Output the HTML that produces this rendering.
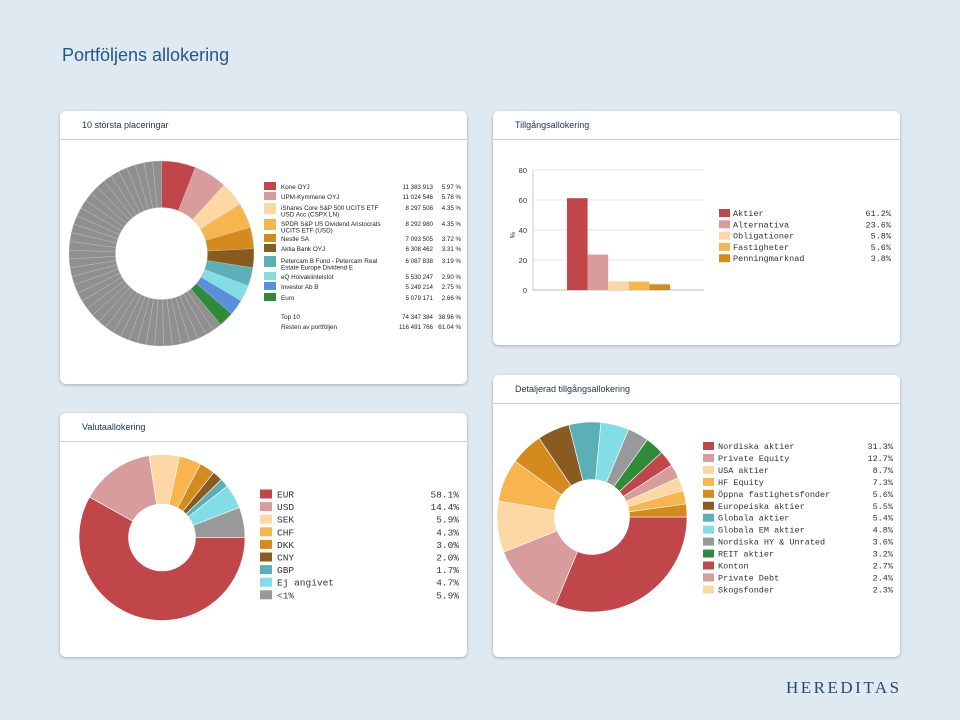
<!DOCTYPE html>
<html><head><meta charset="utf-8"><style>
body{margin:0;width:960px;height:720px;background:#dfe9f2;font-family:"Liberation Sans",sans-serif;position:relative;overflow:hidden}
.card{position:absolute;background:#fff;border-radius:6px;box-shadow:0 1px 3px rgba(0,0,0,.25)}
.hd{position:absolute;left:22px;top:9px;font-size:9px;color:#1c3550}
.ln{position:absolute;left:0;right:0;top:28px;border-top:1px solid #c9d0d6}
svg{position:absolute;left:0;top:0}
</style></head><body>
<div style="position:absolute;left:62px;top:45px;font-size:18px;color:#24568a">Portföljens allokering</div>
<div class="card" style="left:60px;top:111px;width:407px;height:273px"><div class="hd">10 största placeringar</div><div class="ln"></div></div>
<div class="card" style="left:493px;top:111px;width:407px;height:234px"><div class="hd">Tillgångsallokering</div><div class="ln"></div></div>
<div class="card" style="left:493px;top:375px;width:407px;height:282px"><div class="hd">Detaljerad tillgångsallokering</div><div class="ln"></div></div>
<div class="card" style="left:60px;top:413px;width:407px;height:244px"><div class="hd">Valutaallokering</div><div class="ln"></div></div>
<div style="position:absolute;left:786px;top:678px;font-family:'Liberation Serif',serif;font-size:17px;letter-spacing:2.5px;color:#2c4a68">HEREDITAS</div>
<svg id="s" width="960" height="720"></svg>
<script>
const topNames=["Kone OYJ","UPM-Kymmene OYJ","iShares Core S&P 500 UCITS ETF|USD Acc (CSPX LN)","SPDR S&P US Dividend Aristocrats|UCITS ETF (USD)","Nestle SA","Aktia Bank OYJ","Petercam B Fund - Petercam Real|Estate Europe Dividend E","eQ Hoivakiinteistot","Investor Ab B","Euro"];
const topAmounts=["11 383 913","11 024 546","8 297 508","8 292 980","7 093 505","6 308 462","6 087 838","5 530 247","5 249 214","5 079 171"];
const topPct=[5.97,5.78,4.35,4.35,3.72,3.31,3.19,2.90,2.75,2.66];
const restPct=61.04;
const assetCats=["Aktier","Alternativa","Obligationer","Fastigheter","Penningmarknad"];
const assetVals=[61.2,23.6,5.8,5.6,3.8];
const yTicks=[0,20,40,60,80];
const curCats=["EUR","USD","SEK","CHF","DKK","CNY","GBP","Ej angivet","<1%"];
const curVals=[58.1,14.4,5.9,4.3,3.0,2.0,1.7,4.7,5.9];
const detCats=["Nordiska aktier","Private Equity","USA aktier","HF Equity","Öppna fastighetsfonder","Europeiska aktier","Globala aktier","Globala EM aktier","Nordiska HY & Unrated","REIT aktier","Konton","Private Debt","Skogsfonder"];
const detVals=[31.3,12.7,8.7,7.3,5.6,5.5,5.4,4.8,3.6,3.2,2.7,2.4,2.3];
const detExtra=[2.3,2.2];
const C=["#c0464a","#d99c9c","#fdd8a5","#f8b54d","#d48a1d","#8a5b20","#5ab0b6","#82dde6","#5b8fdc","#2e8b3a","#999999"];
const detColors=["#c0464a","#d99c9c","#fdd8a5","#f8b54d","#d48a1d","#8a5b20","#5ab0b6","#82dde6","#999999","#2e8b3a","#c0464a","#d99c9c","#fdd8a5"];
const S=document.getElementById('s');const NS="http://www.w3.org/2000/svg";
function mk(t,a){const e=document.createElementNS(NS,t);for(const k in a)e.setAttribute(k,a[k]);S.appendChild(e);return e;}
function arc(cx,cy,r0,r1,a0,a1){const p=(r,a)=>[cx+r*Math.cos(a),cy+r*Math.sin(a)];const l=(a1-a0)>Math.PI?1:0;const A=p(r1,a0),B=p(r1,a1),c=p(r0,a1),d=p(r0,a0);return `M${A}A${r1},${r1} 0 ${l} 1 ${B}L${c}A${r0},${r0} 0 ${l} 0 ${d}Z`;}
function donut(cx,cy,r0,r1,start,vals,cols,name,stroke,sw){const tot=vals.reduce((a,b)=>a+b,0);let a=start;vals.forEach((v,i)=>{const b=a+v/tot*2*Math.PI;const e=mk('path',{d:arc(cx,cy,r0,r1,a,b),fill:cols[i],stroke:stroke||'none','stroke-width':sw||0.6});


a=b;});}
function txt(x,y,s,o){const e=mk('text',Object.assign({x:x,y:y},o));e.textContent=s;return e;}
// top holdings
const rest=[];for(let i=0;i<40;i++)rest.push(restPct/40);
donut(161.5,253.5,46,92.5,-Math.PI/2,topPct.concat(rest),C.slice(0,10).concat(rest.map(()=>"#8f8f8f")),'top-holdings','#c8c8c8',0.35);
let ys=[186,196,207,223,238,248,260,276,286,297];
topNames.forEach((n,i)=>{const y=ys[i];const two=n.includes('|');const r=mk('rect',{x:264,y:y-4,width:12,height:two?11:8,fill:C[i]});


n.split('|').forEach((p,j)=>txt(281,y+3+j*6.5,p,{'font-size':6.3,fill:'#222'}));
txt(433,y+3,topAmounts[i],{'font-size':6.2,fill:'#222','text-anchor':'end'});
txt(461,y+3,topPct[i].toFixed(2)+' %',{'font-size':6.2,fill:'#222','text-anchor':'end'});});
txt(281,319,'Top 10',{'font-size':6.3,fill:'#222'});txt(433,319,'74 347 384',{'font-size':6.2,fill:'#222','text-anchor':'end'});txt(461,319,'38.96 %',{'font-size':6.2,fill:'#222','text-anchor':'end'});
txt(281,329,'Resten av portföljen',{'font-size':6.3,fill:'#222'});txt(433,329,'116 491 766',{'font-size':6.2,fill:'#222','text-anchor':'end'});txt(461,329,restPct.toFixed(2)+' %',{'font-size':6.2,fill:'#222','text-anchor':'end'});
// bar chart
const yS=v=>290-v*1.5;
yTicks.forEach(t=>{mk('line',{x1:533,x2:704,y1:yS(t),y2:yS(t),stroke:t?'#e4e4e4':'#bbb'});txt(527,yS(t)+3,String(t),{'font-size':7.5,fill:'#333','text-anchor':'end'});});
mk('line',{x1:533,x2:533,y1:170,y2:290,stroke:'#ccc'});
txt(510,232,'%',{'font-size':7,fill:'#333','transform':'rotate(90 510 232)'});
assetVals.forEach((v,i)=>{const b=mk('rect',{x:567+i*20.6,y:yS(v),width:20.6,height:v*1.5,fill:C[i]});


const y=213+i*11.3;mk('rect',{x:719,y:y-4,width:11,height:8,fill:C[i]});txt(733,y+3,assetCats[i],{'font-size':8.5,fill:'#333','font-family':'Liberation Mono'});txt(891,y+3,v.toFixed(1)+'%',{'font-size':8.5,fill:'#333','font-family':'Liberation Mono','text-anchor':'end'});});
// currency
const curCols=["#c0464a","#d99c9c","#fdd8a5","#f8b54d","#d48a1d","#8a5b20","#5ab0b6","#82dde6","#999999"];
donut(162,537.5,33.5,83,0,curVals,curCols,'currency','#fff');
curVals.forEach((v,i)=>{const y=494+i*12.6;mk('rect',{x:260,y:y-4.5,width:12,height:9,fill:curCols[i]});txt(277,y+3.5,curCats[i],{'font-size':9.5,fill:'#333','font-family':'Liberation Mono'});txt(459,y+3.5,v.toFixed(1)+'%',{'font-size':9.5,fill:'#333','font-family':'Liberation Mono','text-anchor':'end'});});
// detailed
donut(592,517,37.5,95,0,detVals.concat(detExtra),detColors.concat(["#f8b54d","#d48a1d"]),'detailed','#fff');
detVals.forEach((v,i)=>{const y=446+i*11.95;mk('rect',{x:703,y:y-4,width:11,height:8,fill:detColors[i]});txt(718,y+3,detCats[i],{'font-size':8.5,fill:'#333','font-family':'Liberation Mono'});txt(893,y+3,v.toFixed(1)+'%',{'font-size':8.5,fill:'#333','font-family':'Liberation Mono','text-anchor':'end'});});
</script>
</body></html>
